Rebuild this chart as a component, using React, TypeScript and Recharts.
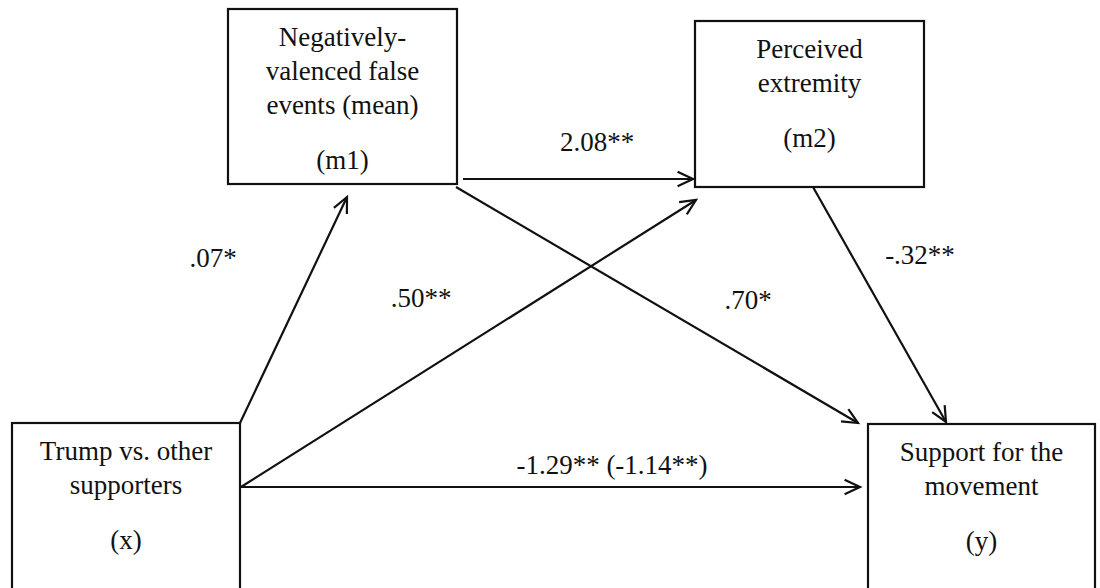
import React from "react";
import {
  ReferenceArea,
  ReferenceLine,
  Scatter,
  ScatterChart,
  XAxis,
  YAxis,
} from "recharts";

// diagram coordinates, in pixels of the 1100 x 588 canvas (y grows downward)
const nodes = [
  { id: "m1", x1: 228, x2: 457, y1: 9, y2: 184, lines: ["Negatively-", "valenced false", "events (mean)"], tag: "(m1)" },
  { id: "m2", x1: 695, x2: 924, y1: 21, y2: 187, lines: ["Perceived", "extremity"], tag: "(m2)" },
  { id: "x", x1: 12, x2: 240, y1: 423, y2: 600, lines: ["Trump vs. other", "supporters"], tag: "(x)" },
  { id: "y", x1: 868, x2: 1095, y1: 424, y2: 600, lines: ["Support for the", "movement"], tag: "(y)" },
];

const paths = [
  { from: "x", to: "m1", sx: 240, sy: 423, ex: 347, ey: 197 },
  { from: "x", to: "m2", sx: 241, sy: 487, ex: 696, ey: 200 },
  { from: "x", to: "y", sx: 241, sy: 487, ex: 860, ey: 487 },
  { from: "m1", to: "m2", sx: 463, sy: 179, ex: 693, ey: 179 },
  { from: "m1", to: "y", sx: 456, sy: 187, ex: 858, ey: 423 },
  { from: "m2", to: "y", sx: 813, sy: 187, ex: 946, ey: 422 },
];

const coefLabels = [
  { x: 213, y: 258, text: ".07*" },
  { x: 421, y: 298, text: ".50**" },
  { x: 597, y: 142, text: "2.08**" },
  { x: 748, y: 300, text: ".70*" },
  { x: 920, y: 255, text: "-.32**" },
  { x: 612, y: 465, text: "-1.29** (-1.14**)" },
];

const FONT = "'Liberation Serif', 'Times New Roman', serif";
const INK = "#111";

const NodeBox = (props: any) => {
  const { x, y, width, height, node } = props;
  const cx = x + width / 2;
  return (
    <g>
      <rect x={x} y={y} width={width} height={height} fill="#fff" stroke={INK} strokeWidth={2.2} />
      {node.lines.map((t: string, i: number) => (
        <text
          key={t}
          x={cx}
          y={y + 28 + i * 34}
          textAnchor="middle"
          dominantBaseline="central"
          fontFamily={FONT}
          fontSize={27}
          fill={INK}
        >
          {t}
        </text>
      ))}
      <text
        x={cx}
        y={y + 28 + (node.lines.length - 1) * 34 + 55}
        textAnchor="middle"
        dominantBaseline="central"
        fontFamily={FONT}
        fontSize={27}
        fill={INK}
      >
        {node.tag}
      </text>
    </g>
  );
};

const Arrow = (props: any) => {
  const { x1, y1, x2, y2 } = props;
  const a = Math.atan2(y2 - y1, x2 - x1);
  const len = 17;
  const spread = (25 * Math.PI) / 180;
  const p1 = [x2 - len * Math.cos(a - spread), y2 - len * Math.sin(a - spread)];
  const p2 = [x2 - len * Math.cos(a + spread), y2 - len * Math.sin(a + spread)];
  return (
    <g>
      <line x1={x1} y1={y1} x2={x2} y2={y2} stroke={INK} strokeWidth={2.2} />
      <polyline
        points={`${p1[0]},${p1[1]} ${x2},${y2} ${p2[0]},${p2[1]}`}
        fill="none"
        stroke={INK}
        strokeWidth={2.2}
      />
    </g>
  );
};

const CoefText = (props: any) => {
  const { cx, cy, payload } = props;
  return (
    <text
      x={cx}
      y={cy}
      textAnchor="middle"
      dominantBaseline="central"
      fontFamily={FONT}
      fontSize={27}
      fill={INK}
    >
      {payload.text}
    </text>
  );
};

export default function App() {
  return (
    <div style={{ position: "absolute", left: 0, top: 0, background: "#fff" }}>
      <ScatterChart width={1100} height={588} margin={{ top: 0, right: 0, bottom: 0, left: 0 }}>
        <XAxis type="number" dataKey="x" domain={[0, 1100]} hide />
        <YAxis type="number" dataKey="y" domain={[0, 588]} reversed hide />
        {nodes.map((n) => (
          <ReferenceArea
            key={n.id}
            x1={n.x1}
            x2={n.x2}
            y1={n.y1}
            y2={n.y2}
            ifOverflow="visible"
            shape={(p: any) => <NodeBox {...p} node={n} />}
          />
        ))}
        {paths.map((p) => (
          <ReferenceLine
            key={p.from + p.to}
            segment={[
              { x: p.sx, y: p.sy },
              { x: p.ex, y: p.ey },
            ]}
            ifOverflow="visible"
            shape={(s: any) => <Arrow {...s} />}
          />
        ))}
        <Scatter data={coefLabels} dataKey="y" shape={(s: any) => <CoefText {...s} />} isAnimationActive={false} />
      </ScatterChart>
    </div>
  );
}
